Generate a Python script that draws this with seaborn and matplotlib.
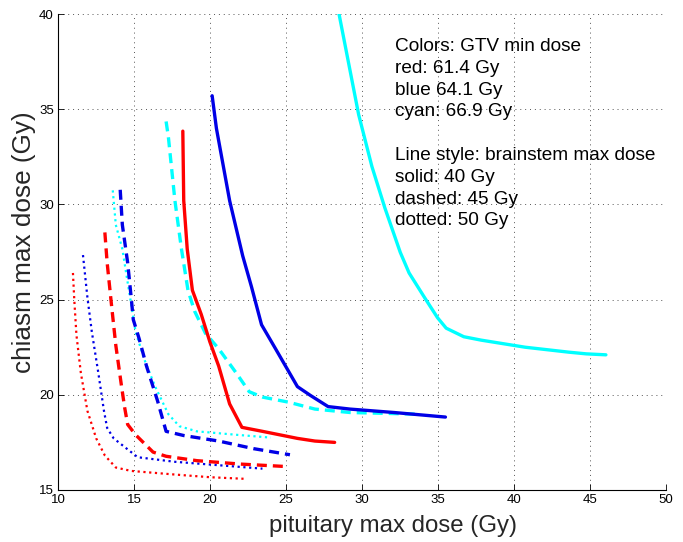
import matplotlib
matplotlib.use("Agg")
import matplotlib.pyplot as plt
import seaborn as sns
import pandas as pd

# --- data (pituitary max dose x, chiasm max dose y) ---
red_solid_x = [18.21, 18.27, 18.5, 18.84, 19.42, 19.99, 20.57, 21.29, 22.1, 23.45, 25.75, 26.9, 28.2]
red_solid_y = [33.85, 30.2, 27.66, 25.49, 24.23, 22.78, 21.51, 19.52, 18.29, 18.08, 17.71, 17.57, 17.5]
blue_solid_x = [20.14, 20.42, 21.29, 22.15, 22.73, 23.39, 24.31, 25.75, 26.6, 27.77, 29.2, 32.1, 35.49]
blue_solid_y = [35.71, 34.0, 30.2, 27.3, 25.67, 23.68, 22.42, 20.43, 19.97, 19.38, 19.25, 19.07, 18.83]
cyan_solid_x = [28.49, 29.78, 30.65, 31.5, 32.52, 33.1, 34.1, 34.97, 35.54, 36.7, 37.85, 40.73, 43.6, 44.76, 46.05]
cyan_solid_y = [40.0, 34.72, 32.0, 29.83, 27.48, 26.4, 25.13, 24.05, 23.5, 23.05, 22.87, 22.5, 22.24, 22.15, 22.1]

red_dashed_x = [13.08, 13.23, 13.51, 13.8, 14.18, 14.38, 14.58, 15.1, 16.25, 17.11, 19.13, 22.0, 25.03]
red_dashed_y = [28.53, 26.94, 24.77, 22.6, 20.43, 19.34, 18.44, 17.9, 16.99, 16.77, 16.54, 16.36, 16.23]
blue_dashed_x = [14.09, 14.23, 14.58, 14.81, 14.95, 15.33, 15.82, 16.54, 17.11, 18.27, 20.57, 22.87, 25.26]
blue_dashed_y = [30.77, 28.93, 26.94, 25.13, 23.95, 22.96, 21.51, 19.7, 18.08, 17.86, 17.57, 17.17, 16.85]
cyan_dashed_x = [17.11, 17.26, 17.69, 18.12, 18.55, 18.98, 19.7, 20.57, 21.72, 22.58, 23.45, 25.18, 26.9, 29.2, 33.8]
cyan_dashed_y = [34.36, 33.54, 30.2, 27.66, 25.49, 24.4, 23.23, 22.42, 21.15, 20.16, 19.88, 19.61, 19.25, 19.07, 18.98]

red_dotted_x = [10.98, 11.07, 11.21, 11.5, 11.93, 12.51, 13.08, 13.8, 14.81, 17.69, 20.0, 22.44]
red_dotted_y = [26.4, 24.95, 23.14, 21.15, 19.16, 17.71, 16.81, 16.18, 16.0, 15.81, 15.67, 15.58]
blue_dotted_x = [11.64, 11.93, 12.22, 12.65, 13.02, 13.23, 13.66, 14.52, 15.24, 17.69, 20.57, 23.45]
blue_dotted_y = [27.34, 25.13, 23.32, 21.15, 19.16, 18.26, 17.71, 17.17, 16.72, 16.48, 16.3, 16.12]
cyan_dotted_x = [13.6, 13.8, 14.23, 14.52, 14.81, 15.1, 15.67, 16.39, 17.26, 17.98, 19.13, 21.72, 24.0]
cyan_dotted_y = [30.74, 28.93, 27.66, 26.2, 24.77, 23.32, 21.87, 20.43, 18.98, 18.35, 18.08, 17.9, 17.75]

x_ticks = [10, 15, 20, 25, 30, 35, 40, 45, 50]
y_ticks = [15, 20, 25, 30, 35, 40]
annotation_lines = ["Colors: GTV min dose", "red: 61.4 Gy", "blue 64.1 Gy", "cyan: 66.9 Gy", "",
                    "Line style: brainstem max dose", "solid: 40 Gy", "dashed: 45 Gy", "dotted: 50 Gy"]

sns.set_theme(style="white")
plt.rcParams['font.family'] = ['Liberation Sans', 'DejaVu Sans']

fig = plt.figure(figsize=(6.83, 5.42), dpi=100)
ax = fig.add_axes([0.085, 0.096, 0.89, 0.878])

RED = "#ff0000"
BLUE = "#0000e6"
CYAN = "#00ffff"
series = [
    (red_dotted_x, red_dotted_y, RED, (0, (1.0, 1.6)), 1.6),
    (blue_dotted_x, blue_dotted_y, BLUE, (0, (1.0, 1.6)), 1.6),
    (cyan_dotted_x, cyan_dotted_y, CYAN, (0, (1.0, 1.6)), 1.6),
    (red_dashed_x, red_dashed_y, RED, (0, (3.0, 1.8)), 2.4),
    (blue_dashed_x, blue_dashed_y, BLUE, (0, (3.0, 1.8)), 2.4),
    (cyan_dashed_x, cyan_dashed_y, CYAN, (0, (3.0, 1.8)), 2.4),
    (red_solid_x, red_solid_y, RED, "-", 2.4),
    (blue_solid_x, blue_solid_y, BLUE, "-", 2.4),
    (cyan_solid_x, cyan_solid_y, CYAN, "-", 2.4),
]
for xs, ys, c, ls, lw in series:
    df = pd.DataFrame({"x": xs, "y": ys})
    sns.lineplot(data=df, x="x", y="y", sort=False, color=c, linestyle=ls,
                 linewidth=lw, ax=ax, estimator=None)

ax.set_xlim(10, 50)
ax.set_ylim(15, 40)
ax.set_xticks(x_ticks)
ax.set_yticks(y_ticks)
ax.tick_params(direction="in", length=4, labelsize=9.5, colors="black", width=0.6,
               left=True, bottom=True, pad=3)
ax.grid(True, linestyle=(0, (1, 4)), color="#555555", linewidth=0.7)
for s in ["top", "right"]:
    ax.spines[s].set_visible(False)
for s in ["left", "bottom"]:
    ax.spines[s].set_color("black")
    ax.spines[s].set_linewidth(0.8)
ax.set_xlabel("pituitary max dose (Gy)", fontsize=17.3)
ax.set_ylabel("chiasm max dose (Gy)", fontsize=18.8)
ax.xaxis.set_label_coords(0.551, -0.052)
ax.yaxis.set_label_coords(-0.036, 0.521)

ax.text(32.2, 38.75, "\n".join(annotation_lines), fontsize=13.7, va="top", ha="left",
        linespacing=1.37, color="black")

fig.savefig("out.png", dpi=100)
